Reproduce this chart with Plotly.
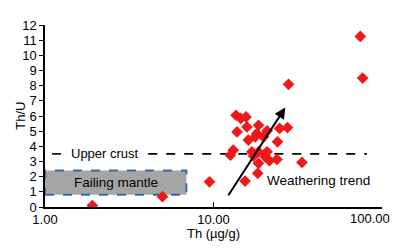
import numpy as np
import plotly.graph_objects as go

# Sample data (Th in ug/g, Th/U)
th = [74.4, 76.8, 27.9, 13.6, 14.5, 15.6, 15.8, 13.8, 18.5, 20.8, 24.7, 27.5,
      18.1, 17.7, 16.1, 19.8, 24.0, 13.1, 12.6, 16.9, 18.5, 20.8, 17.3, 20.3,
      18.5, 21.5, 23.8, 33.5, 18.3, 15.4, 9.47, 1.91, 4.98]
th_u = [11.25, 8.5, 8.09, 6.05, 5.84, 5.94, 5.28, 4.95, 5.39, 5.02, 5.18, 5.24,
        4.85, 4.63, 4.41, 4.63, 4.30, 3.75, 3.42, 3.64, 3.64, 3.64, 3.36, 3.31,
        2.88, 3.05, 3.14, 2.94, 2.22, 1.71, 1.66, 0.1, 0.68]

upper_crust = 3.5
upper_crust_x = [1.1, 1.28, None, 4.1, 81.5]
mantle_x = [1.0, 6.9]
mantle_y = [0.8, 2.4]
trend_start = (12.1, 0.68)
trend_end = (26.7, 6.56)

x_ticks = [1, 10, 100]
x_ticktext = ["1.00", "10.00", "100.00"]
y_ticks = list(range(0, 13))

FONT = "Arial, Liberation Sans, sans-serif"

fig = go.Figure()

# Failing mantle box
fig.add_trace(go.Scatter(
    x=[mantle_x[0], mantle_x[1], mantle_x[1], mantle_x[0], mantle_x[0]],
    y=[mantle_y[0], mantle_y[0], mantle_y[1], mantle_y[1], mantle_y[0]],
    mode="lines", fill="toself", fillcolor="#a5a5a5",
    line=dict(color="#3b6aa0", width=2, dash="dash"),
    hoverinfo="skip", showlegend=False))

# Upper crust line
fig.add_trace(go.Scatter(
    x=upper_crust_x, y=[upper_crust if v is not None else None for v in upper_crust_x],
    mode="lines", line=dict(color="black", width=1.6, dash="dash"),
    hoverinfo="skip", showlegend=False))

# Data points
fig.add_trace(go.Scatter(
    x=th, y=th_u, mode="markers",
    marker=dict(symbol="diamond", size=9, color="#f01818"),
    showlegend=False))

fig.add_annotation(x=np.log10(2.26), y=upper_crust, text="Upper crust",
                   showarrow=False, font=dict(size=13, color="black", family=FONT))
fig.add_annotation(x=np.log10(np.sqrt(mantle_x[0] * mantle_x[1])), y=sum(mantle_y) / 2,
                   text="Failing mantle", showarrow=False,
                   font=dict(size=13.5, color="black", family=FONT))
fig.add_annotation(x=np.log10(41.8), y=1.78, text="Weathering trend", showarrow=False,
                   font=dict(size=13.5, color="black", family=FONT))
fig.add_annotation(x=np.log10(trend_end[0]), y=trend_end[1],
                   ax=np.log10(trend_start[0]), ay=trend_start[1],
                   xref="x", yref="y", axref="x", ayref="y",
                   showarrow=True, arrowhead=2, arrowsize=1.1, arrowwidth=2,
                   arrowcolor="black", text="")

# Last x tick label (kept inside the page, as in the reference)
fig.add_annotation(x=np.log10(x_ticks[-1]), y=0, xref="x", yref="paper",
                   text=x_ticktext[-1], showarrow=False, xanchor="right", yanchor="top",
                   xshift=10, yshift=-2,
                   font=dict(size=13, color="black", family=FONT))

# Axis titles
fig.add_annotation(x=-0.075, y=0.5, xref="paper", yref="paper", text="Th/U",
                   textangle=-90, showarrow=False, xanchor="center", yanchor="middle",
                   font=dict(size=13, color="black", family=FONT))
fig.add_annotation(x=0.5, y=0, xref="paper", yref="paper", text="Th (µg/g)",
                   showarrow=False, xanchor="center", yanchor="middle", yshift=-26,
                   font=dict(size=13, color="black", family=FONT))

fig.update_xaxes(type="log", range=[0, 2.0002], tickvals=x_ticks,
                 ticktext=x_ticktext[:-1] + [""],
                 showgrid=False, zeroline=False, showline=True, linecolor="black",
                 linewidth=1.5, ticks="inside", ticklen=5, tickcolor="black",
                 automargin=False,
                 tickfont=dict(size=13, color="black", family=FONT))
fig.update_yaxes(range=[0, 12], tickvals=y_ticks,
                 showgrid=False, zeroline=False, showline=True, linecolor="black",
                 linewidth=1.5, ticks="outside", ticklen=4, tickcolor="black",
                 automargin=False,
                 tickfont=dict(size=13, color="black", family=FONT))

fig.update_layout(width=400, height=250, margin=dict(l=45, r=18, t=25, b=43),
                  plot_bgcolor="white", paper_bgcolor="white",
                  font=dict(family=FONT, color="black"))

fig.write_html("out.html", config={"displayModeBar": False},
               post_script="document.body.style.margin='0';"
                           "document.body.style.overflow='hidden';")
